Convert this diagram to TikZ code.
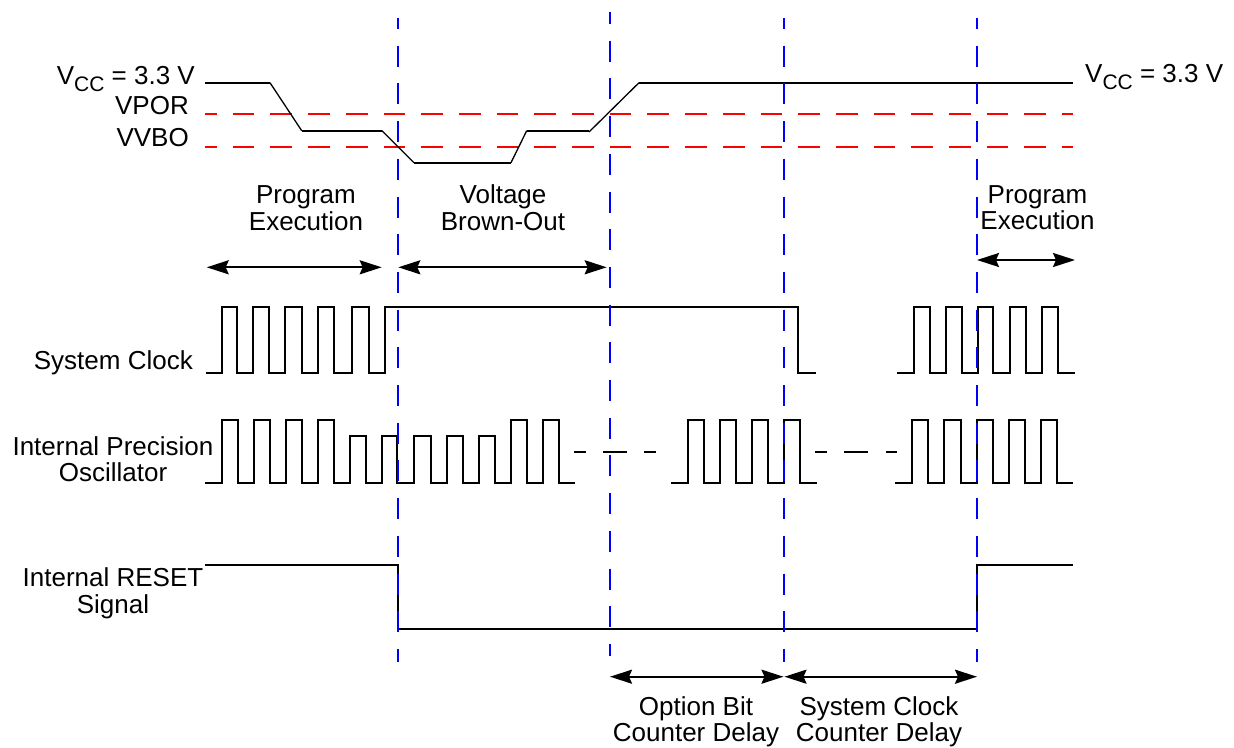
\documentclass[tikz,border=0pt]{standalone}
\usepackage{fontspec}
\setmainfont{Liberation Sans}
\usetikzlibrary{arrows.meta}

\begin{document}
\begin{tikzpicture}[x=1pt, y=-1pt,
    lab/.style={inner sep=0pt, font=\fontsize{26}{26.5}\selectfont, align=center},
    sig/.style={line width=2.2pt, black, line join=miter},
    ramp/.style={line width=1.3pt, black},
    thr/.style={line width=2.2pt, red, dash pattern=on 21.7pt off 16pt, dash phase=10pt},
    vline/.style={line width=2.2pt, blue, dash pattern=on 21pt off 16.7pt, dash phase=10pt},
    dur/.style={{Stealth[length=22pt,width=14pt,inset=3pt]}-{Stealth[length=22pt,width=14pt,inset=3pt]}, line width=2.2pt}
]
    \useasboundingbox (0,0) rectangle (1234,747);

    % labels on the left
    \node[lab, anchor=base east] (vccl) at (195,84) {V\raisebox{-7pt}{\fontsize{21}{21}\selectfont CC} = 3.3 V};
    \node[lab, anchor=base east] (vpor) at (189,114.3) {VPOR};
    \node[lab, anchor=base east] (vvbo) at (189,146.7) {VVBO};
    \node[lab, anchor=base west] (vccr) at (1085,82) {V\raisebox{-7pt}{\fontsize{21}{21}\selectfont CC} = 3.3 V};
    \node[lab, anchor=base east] (clk) at (193,369.3) {System Clock};
    \node[lab, anchor=base] (ipo) at (113,481.7) {Internal Precision\\Oscillator};
    \node[lab, anchor=base] (rst) at (113,613) {Internal RESET\\Signal};

    % phase labels
    \node[lab, anchor=base] (pe1) at (306,230) {Program\\Execution};
    \node[lab, anchor=base] (vbo) at (503,230) {Voltage\\Brown-Out};
    \node[lab, anchor=base] (pe2) at (1037.5,229.7) {Program\\Execution};
    \node[lab, anchor=base] (obd) at (696,741.7) {Option Bit\\Counter Delay};
    \node[lab, anchor=base] (scd) at (879,741.7) {System Clock\\Counter Delay};

    % thresholds
    \draw[thr] (205,114.3) -- (1073,114.3);
    \draw[thr] (205,146.7) -- (1073,146.7);

    % supply voltage
    \draw[sig] (205,82.7) -- (270,82.7);
    \draw[ramp] (270,82.7) -- (301.7,130.7);
    \draw[sig] (301.7,130.7) -- (382,130.7);
    \draw[ramp] (382,130.7) -- (414,162.7);
    \draw[sig] (414,162.7) -- (511,162.7);
    \draw[ramp] (511,162.7) -- (526.7,130.7);
    \draw[sig] (526.7,130.7) -- (589,130.7);
    \draw[ramp] (589,132) -- (639,82.7);
    \draw[sig] (639,82.7) -- (1073,82.7);

    % system clock
    \draw[sig] (206,373) -- (221.7,373) -- (221.7,307) -- (236.7,307) -- (236.7,373)
        -- (252.7,373) -- (252.7,307) -- (269,307) -- (269,373)
        -- (285,373) -- (285,307) -- (301.7,307) -- (301.7,373)
        -- (317.7,373) -- (317.7,307) -- (334.3,307) -- (334.3,373) -- (352.3,373)
        -- (352.3,307) -- (369,307) -- (369,373) -- (385,373)
        -- (385,307) -- (798.3,307) -- (798.3,373) -- (815.7,373);
    \draw[sig] (897.3,373) -- (914,373) -- (914,307) -- (930,307) -- (930,373)
        -- (945.7,373) -- (945.7,307) -- (961.7,307) -- (961.7,373)
        -- (977.7,373) -- (977.7,307) -- (993.3,307) -- (993.3,373)
        -- (1009.7,373) -- (1009.7,307) -- (1025.7,307) -- (1025.7,373)
        -- (1041.7,373) -- (1041.7,307) -- (1058,307) -- (1058,373) -- (1075,373);

    % internal precision oscillator
    \draw[sig] (205,483) -- (222.3,483) -- (222.3,420) -- (238,420) -- (238,483)
        -- (254,483) -- (254,420) -- (270,420) -- (270,483)
        -- (286,483) -- (286,420) -- (302,420) -- (302,483)
        -- (318,483) -- (318,420) -- (334,420) -- (334,483)
        -- (350,483) -- (350,435.7) -- (366,435.7) -- (366,483)
        -- (382.3,483) -- (382.3,435.7) -- (397.3,435.7) -- (397.3,483)
        -- (414,483) -- (414,435.7) -- (430.7,435.7) -- (430.7,483)
        -- (446.7,483) -- (446.7,435.7) -- (462.7,435.7) -- (462.7,483)
        -- (478.7,483) -- (478.7,435.7) -- (495,435.7) -- (495,483)
        -- (510.7,483) -- (510.7,420) -- (526.7,420) -- (526.7,483)
        -- (542.7,483) -- (542.7,420) -- (559,420) -- (559,483) -- (575,483);
    \draw[sig] (574,451.7) -- (586,451.7) (603,451.7) -- (627,451.7) (644,451.7) -- (656,451.7);
    \draw[sig] (671,483) -- (687.7,483) -- (687.7,420) -- (704,420) -- (704,483)
        -- (720,483) -- (720,420) -- (736,420) -- (736,483)
        -- (751.7,483) -- (751.7,420) -- (768,420) -- (768,483)
        -- (784,483) -- (784,420) -- (800,420) -- (800,483) -- (816.7,483);
    \draw[sig] (815,451.7) -- (826.7,451.7) (844,451.7) -- (867.7,451.7) (886,451.7) -- (896.7,451.7);
    \draw[sig] (895,483) -- (911.7,483) -- (911.7,420) -- (928.3,420) -- (928.3,483)
        -- (944.3,483) -- (944.3,420) -- (960.7,420) -- (960.7,483)
        -- (976.7,483) -- (976.7,420) -- (993.3,420) -- (993.3,483)
        -- (1009,483) -- (1009,420) -- (1025,420) -- (1025,483)
        -- (1041,483) -- (1041,420) -- (1057.3,420) -- (1057.3,483) -- (1073.3,483);

    % internal reset
    \draw[sig] (205,565) -- (398,565) -- (398,629) -- (977,629) -- (977,565) -- (1073,565);

    % phase boundaries
    \coordinate (t1) at (398,18);
    \coordinate (t2) at (610,12);
    \coordinate (t3) at (784,18);
    \coordinate (t4) at (977,18);
    \draw[vline] (t1) -- (398,662);
    \draw[vline, dash phase=9pt] (t2) -- (610,656);
    \draw[vline] (t3) -- (784,662);
    \draw[vline] (t4) -- (977,662);

    % durations
    \coordinate (a1) at (206.7,267.3);
    \coordinate (a2) at (381.7,267.3);
    \coordinate (a3) at (398.3,267.3);
    \coordinate (a4) at (606.7,267.3);
    \coordinate (a5) at (977,260);
    \coordinate (a6) at (1075,260);
    \coordinate (b1) at (610,676.7);
    \coordinate (b2) at (783.5,676.7);
    \coordinate (b3) at (784.5,676.7);
    \coordinate (b4) at (977,676.7);
    \draw[dur] (a1) -- (a2);
    \draw[dur] (a3) -- (a4);
    \draw[dur] (a5) -- (a6);
    \draw[dur] (b1) -- (b2);
    \draw[dur] (b3) -- (b4);
\end{tikzpicture}
\end{document}
